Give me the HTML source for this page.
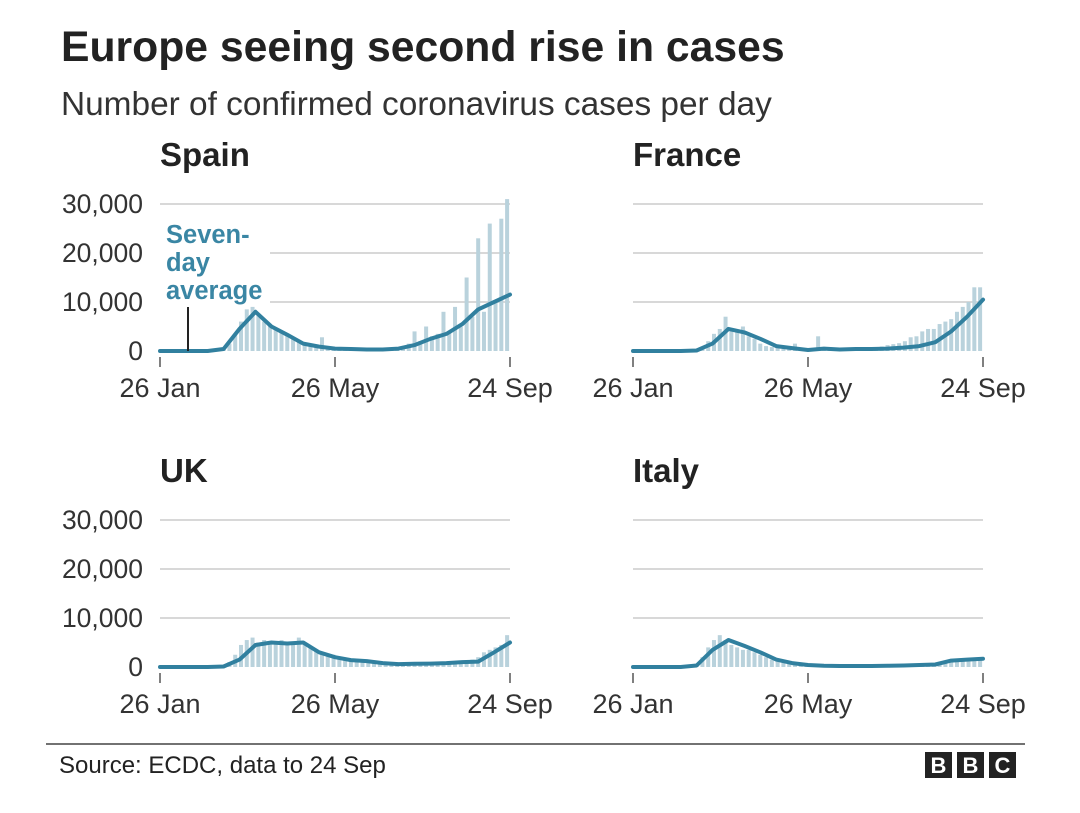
<!DOCTYPE html>
<html><head><meta charset="utf-8"><style>
body{margin:0;background:#fff;}
svg{display:block;font-family:"Liberation Sans",Arial,sans-serif;}
</style></head><body>
<svg id="chart" width="1080" height="813" viewBox="0 0 1080 813">
<text x="61" y="61" font-size="42.7" font-weight="bold" fill="#222">Europe seeing second rise in cases</text>
<text x="61" y="115" font-size="33.4" fill="#333">Number of confirmed coronavirus cases per day</text>
<line x1="46" y1="744" x2="1025" y2="744" stroke="#444" stroke-width="1.5"/>
<text x="59" y="773" font-size="24" fill="#222">Source: ECDC, data to 24 Sep</text>
<g>
<rect x="925" y="752" width="27" height="26" fill="#222"/><rect x="957" y="752" width="27" height="26" fill="#222"/><rect x="989" y="752" width="27" height="26" fill="#222"/>
<text x="938.5" y="773" font-size="22" font-weight="bold" fill="#fff" text-anchor="middle">B</text>
<text x="970.5" y="773" font-size="22" font-weight="bold" fill="#fff" text-anchor="middle">B</text>
<text x="1002.5" y="773" font-size="22" font-weight="bold" fill="#fff" text-anchor="middle">C</text>
</g>
</svg>
<script>
const avgDays=[0,11,22,33,44,55,66,77,88,99,110,121,132,143,154,165,176,187,198,209,220,231,242];
const spainAvg=[0,0,0,0,400,4500,8000,5000,3300,1500,900,500,400,300,300,500,1200,2500,3500,5500,8500,10000,11500];
const franceAvg=[0,0,0,0,100,1500,4500,3800,2500,1000,600,200,500,300,400,400,500,700,1000,1800,4000,7000,10500];
const ukAvg=[0,0,0,0,100,1500,4500,5000,4800,5000,3000,2000,1400,1200,800,600,650,700,800,1000,1100,3000,5000];
const italyAvg=[0,0,0,0,300,3500,5500,4300,3000,1500,800,400,250,200,200,200,250,300,400,500,1300,1500,1700];
const barStep=4;
const spainBars=[0,0,0,0,0,0,0,0,0,0,0,300,1500,3500,6000,8500,9000,7500,6000,5500,4500,4000,3500,2500,2000,1500,1200,1000,2800,600,400,500,400,300,300,300,300,300,350,400,500,800,1000,1500,4000,2000,5000,3000,3500,8000,4000,9000,5000,15000,7000,23000,8000,26000,10000,27000,31000];
const franceBars=[0,0,0,0,0,0,0,0,0,0,0,200,900,2000,3500,4500,7000,4500,4000,5000,3000,2500,1500,1000,800,600,400,700,1500,400,300,100,3000,700,400,300,400,500,500,600,700,800,800,900,1200,1400,1600,2000,2800,3000,4000,4500,4500,5500,6000,6500,8000,9000,10000,13000,13000];
const ukBars=[0,0,0,0,0,0,0,0,0,0,0,200,1000,2500,4500,5500,6000,5000,5500,5000,5000,5500,4800,5000,6000,4500,4000,3500,3000,2500,2500,2000,1800,1500,1400,1200,1000,900,800,700,600,600,650,700,700,750,800,850,900,1000,1000,1100,1000,1300,1500,2000,3000,3500,4000,4500,6500];
const italyBars=[0,0,0,0,0,0,0,0,0,0,0,500,2000,4000,5500,6500,5500,4500,4000,3500,3500,3000,2500,2000,1500,1200,1000,800,700,500,400,300,300,250,200,200,200,200,200,200,200,200,200,200,200,200,200,200,300,400,500,600,800,1000,1300,1400,1500,1600,1700,1800,1900];
const yTicks=[0,10000,20000,30000];
const yTickLabels=["0","10,000","20,000","30,000"];
const xTickDays=[0,121,242];
const xTickLabels=["26 Jan","26 May","24 Sep"];
const panels=[
 {name:"Spain",avg:spainAvg,bars:spainBars,x0:160,y0:351,title:[160,166],labels:true,slug:"spain"},
 {name:"France",avg:franceAvg,bars:franceBars,x0:633,y0:351,title:[633,166],labels:false,slug:"france"},
 {name:"UK",avg:ukAvg,bars:ukBars,x0:160,y0:667,title:[160,482],labels:true,slug:"uk"},
 {name:"Italy",avg:italyAvg,bars:italyBars,x0:633,y0:667,title:[633,482],labels:false,slug:"italy"}
];
const NS="http://www.w3.org/2000/svg";
const svg=document.getElementById('chart');
function mk(tag,attrs,parent){const e=document.createElementNS(NS,tag);for(const k in attrs)e.setAttribute(k,attrs[k]);parent.appendChild(e);return e;}
const W=350,PX=49/10000;
panels.forEach(p=>{
 const g=mk('g',{},svg);
 
 
 const xs=d=>p.x0+d/242*W, ys=v=>p.y0-v*PX;
 const t=mk('text',{x:p.title[0],y:p.title[1],'font-size':33,'font-weight':'bold',fill:'#222'},g);
 t.textContent=p.name;
 
 
 yTicks.forEach((v,i)=>{
  if(v===0)return;
  let xs0=p.x0;
  if(p.slug==='spain'&&v<30000)xs0=p.x0+110;
  const l=mk('line',{x1:xs0,x2:p.x0+W,y1:ys(v),y2:ys(v),stroke:'#ccc','stroke-width':1.5},g);
  
  
 });
 if(p.labels){yTicks.forEach((v,i)=>{
  const tl=mk('text',{x:143,y:ys(v)+9,'font-size':26.5,fill:'#333','text-anchor':'end'},g);
  tl.textContent=yTickLabels[i];
  
  
 });}
 xTickDays.forEach((d,i)=>{
  const tk=mk('line',{x1:xs(d),x2:xs(d),y1:p.y0+6,y2:p.y0+16,stroke:'#555','stroke-width':1.5},g);
  
  
  const tl=mk('text',{x:xs(d),y:p.y0+46,'font-size':27,fill:'#333','text-anchor':'middle'},g);
  tl.textContent=xTickLabels[i];
  
  
 });
 p.bars.forEach((v,i)=>{
  if(v<=0)return;
  const d=i*barStep;
  const b=mk('rect',{x:xs(d)-2,y:ys(v),width:4,height:v*PX,fill:'#b9d2dc'},g);
  
  
 });
 const pts=p.avg.map((v,i)=>xs(avgDays[i]).toFixed(1)+','+ys(v).toFixed(1)).join(' ');
 const pl=mk('polyline',{points:pts,fill:'none',stroke:'#31809f','stroke-width':4,'stroke-linejoin':'round','stroke-linecap':'round'},g);
 
 
});
const ann=mk('g',{},svg);


["Seven-","day","average"].forEach((s,i)=>{
 const t=mk('text',{x:166,y:243+i*28,'font-size':25.5,'font-weight':'bold',fill:'#3a86a4'},ann);
 t.textContent=s;
});
mk('line',{x1:188,x2:188,y1:307,y2:351,stroke:'#222','stroke-width':2},ann);
</script>
</body></html>
